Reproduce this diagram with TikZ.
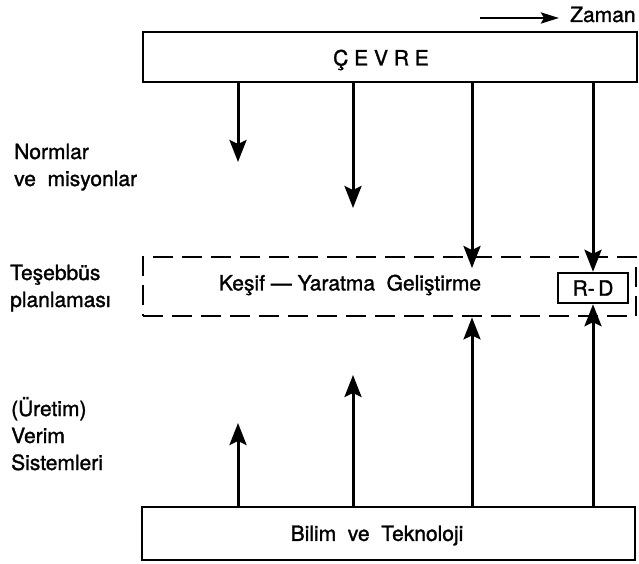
\documentclass[tikz,border=0pt]{standalone}
\usepackage{fontspec}
\setmainfont{TeX Gyre Heros}
\newfontfamily\kalin{TeX Gyre Heros}[FakeBold=1.4]
\usetikzlibrary{arrows.meta}
\usetikzlibrary{calc}

\begin{document}
\begin{tikzpicture}[x=1pt,y=-1pt,
    font=\kalin\fontsize{21}{27}\selectfont,
    kutu/.style={draw,line width=2.5pt,inner sep=0pt},
    kesik/.style={draw,line width=2.8pt,dash pattern=on 20pt off 9pt,inner sep=0pt},
    ok/.style={line width=3pt,-{Stealth[length=22pt,width=17pt,inset=4pt]}},
    yazi/.style={inner sep=0pt,anchor=base west,align=left}]
    \useasboundingbox (0,0) rectangle (639,564);

    \node[kutu,minimum width=494pt,minimum height=50pt] (cevre) at (390,57) {};
    \node[kesik,minimum width=493pt,minimum height=59pt] (gelis) at (389.5,286.5) {};
    \node[kutu,minimum width=70pt,minimum height=30pt] (rd) at (593,288) {R-\,D};
    \node[kutu,minimum width=493pt,minimum height=53pt] (bilim) at (388.5,533.5) {};

    \node[inner sep=0pt] (cevreyazi) at (381,60) {Ç E V R E};
    \node[inner sep=0pt] (kesif) at (350,285) {Keşif — Yaratma~~Geliştirme};
    \node[inner sep=0pt] (bilimyazi) at (377,535.5) {Bilim~~ve~~Teknoloji};

    \node[yazi] (normlar) at (14,186) {Normlar\\ve~~misyonlar};
    \node[yazi] (tesebbus) at (10,307) {Teşebbüs\\planlaması};
    \node[yazi] (uretim) at (11,470) {(Üretim)\\Verim\\Sistemleri};

    \node[yazi] (zaman) at (570,22) {Zaman};
    \coordinate (zamanbas) at (480,18);
    \draw[line width=2.8pt,-{Stealth[length=18pt,width=11pt,inset=3pt]}] (zamanbas) -- ([xshift=-11pt]zaman.west |- zamanbas);

    % asagi inen oklar
    \coordinate (n1) at (238,162);
    \coordinate (n2) at (353,208);
    \coordinate (n3) at (472,268);
    \draw[ok] (cevre.south -| n1) -- (n1);
    \draw[ok] (cevre.south -| n2) -- (n2);
    \draw[ok] (cevre.south -| n3) -- (n3);
    \draw[ok] (cevre.south -| rd) -- (rd.north);

    % yukari cikan oklar
    \coordinate (u1) at (238,423);
    \coordinate (u2) at (353,375);
    \draw[ok] (bilim.north -| u1) -- (u1);
    \draw[ok] (bilim.north -| u2) -- (u2);
    \draw[ok] (bilim.north -| n3) -- (gelis.south -| n3);
    \draw[ok] (bilim.north -| rd) -- (rd.south);
\end{tikzpicture}
\end{document}
